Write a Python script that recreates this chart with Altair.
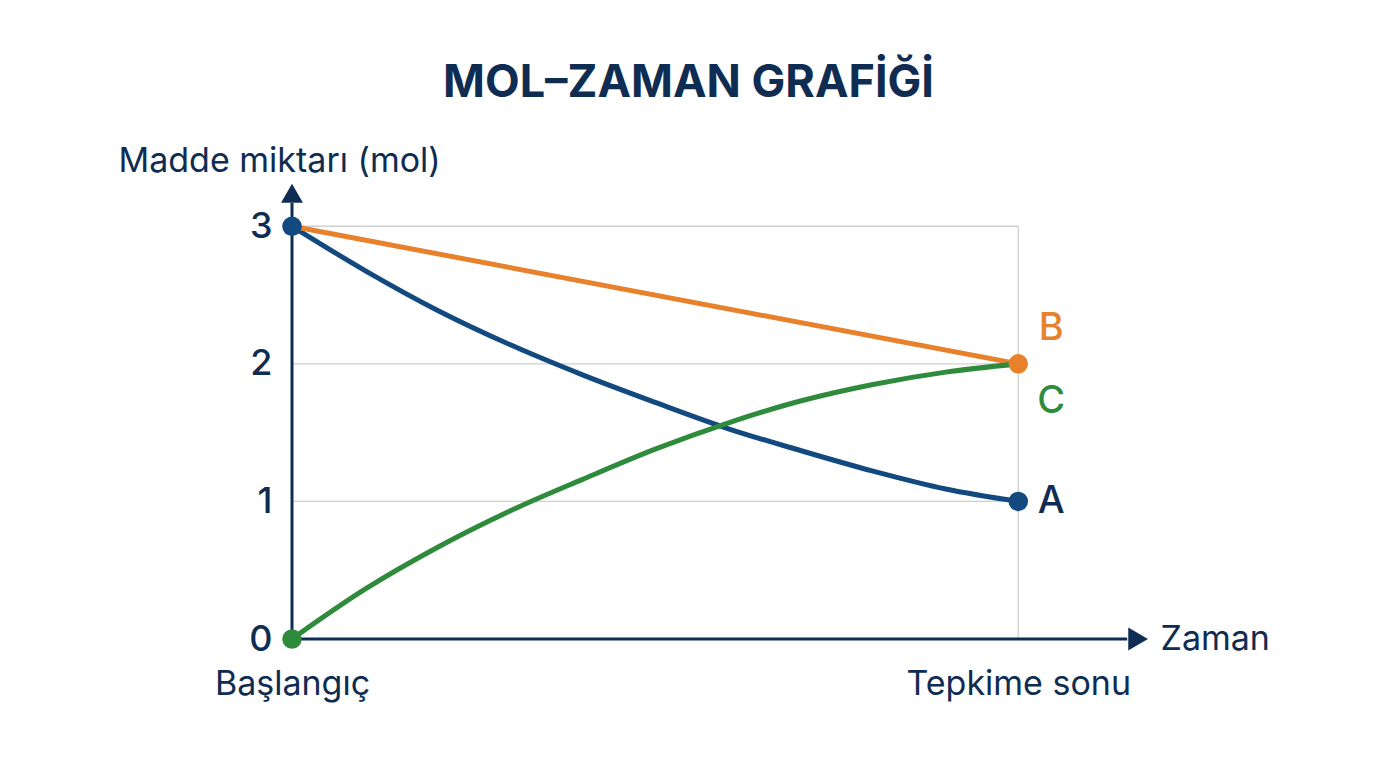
import altair as alt
import pandas as pd

# ---- data ----
t_values = [0, 1, 2, 3, 4, 5, 6, 7, 8, 9, 10]
a_values = [3.00, 2.68, 2.39, 2.14, 1.92, 1.72, 1.53, 1.37, 1.22, 1.09, 1.00]
c_values = [0.00, 0.36, 0.665, 0.93, 1.16, 1.38, 1.57, 1.73, 1.85, 1.94, 2.00]
b_times = [0, 10]
b_values = [3.0, 2.0]
y_ticks = [0, 1, 2, 3]
x_ticks = [0, 10]
x_tick_labels = ["Başlangıç", "Tepkime sonu"]
series_names = ["A", "B", "C"]
series_colors = ["#124a80", "#e8812b", "#2f8b3c"]

NAVY = "#0f2c52"
FONT = "Inter"

rows = []
for t, v in zip(t_values, a_values):
    rows.append({"t": t, "mol": v, "madde": "A"})
for t, v in zip(b_times, b_values):
    rows.append({"t": t, "mol": v, "madde": "B"})
for t, v in zip(t_values, c_values):
    rows.append({"t": t, "mol": v, "madde": "C"})
df = pd.DataFrame(rows)

end_pts = pd.DataFrame({
    "t": [0, 10, 10, 0],
    "mol": [a_values[0], a_values[-1], b_values[-1], c_values[0]],
    "madde": ["A", "A", "B", "C"],
})

xs = alt.Scale(domain=[0, 11.8], nice=False, zero=False)
ys = alt.Scale(domain=[0, 3.3], nice=False, zero=False)
color = alt.Color("madde:N", scale=alt.Scale(domain=series_names, range=series_colors), legend=None)

label_expr = "datum.value == 0 ? '" + x_tick_labels[0] + "' : '" + x_tick_labels[1] + "'"

grid_h = alt.Chart(pd.DataFrame({"g": [1, 2, 3]})).mark_rule(color="#cfcfcf", strokeWidth=1.3).encode(
    y=alt.Y("g:Q", scale=ys,
            axis=alt.Axis(values=y_ticks, format="d", domain=False, ticks=False, grid=False,
                          labelFontSize=36, labelFontWeight=500, labelColor=NAVY, labelFont=FONT,
                          labelPadding=20, labelOverlap=False,
                          title="Madde miktarı (mol)", titleAngle=0, titleX=-174, titleY=-24,
                          titleAlign="left", titleBaseline="middle", titleFontSize=34,
                          titleFontWeight=400, titleColor=NAVY, titleFont=FONT, titleLimit=600)),
    x=alt.X("x0:Q", scale=xs,
            axis=alt.Axis(values=x_ticks, labelExpr=label_expr, domain=False, ticks=False, grid=False,
                          labelFontSize=34, labelFontWeight=400, labelColor=NAVY, labelFont=FONT,
                          labelPadding=28, labelFlush=False, labelOverlap=False, labelLimit=600,
                          title="Zaman", titleX=868, titleY=0, titleAlign="left",
                          titleBaseline="middle", titleFontSize=34, titleFontWeight=400,
                          titleColor=NAVY, titleFont=FONT)),
    x2=alt.datum(10),
).transform_calculate(x0="0")

grid_v = alt.Chart(pd.DataFrame({"g": [10]})).mark_rule(color="#cfcfcf", strokeWidth=1.3).encode(
    x=alt.X("g:Q", scale=xs),
    y=alt.datum(0),
    y2=alt.datum(3),
)

y_axis_line = alt.Chart(pd.DataFrame({"g": [0]})).mark_rule(color=NAVY, strokeWidth=3).encode(
    x=alt.X("g:Q", scale=xs), y=alt.datum(0), y2=alt.datum(3.17))
x_axis_line = alt.Chart(pd.DataFrame({"g": [0]})).mark_rule(color=NAVY, strokeWidth=3).encode(
    y=alt.Y("g:Q", scale=ys), x=alt.datum(0), x2=alt.datum(11.5))

y_arrow = alt.Chart(pd.DataFrame({"g": [0]})).mark_point(
    shape="triangle-up", filled=True, opacity=1, color=NAVY, size=480).encode(
    x=alt.X("g:Q", scale=xs), y=alt.datum(3.24))
x_arrow = alt.Chart(pd.DataFrame({"g": [0]})).mark_point(
    shape="triangle-right", filled=True, opacity=1, color=NAVY, size=520).encode(
    y=alt.Y("g:Q", scale=ys), x=alt.datum(11.65))

lines = alt.Chart(df).mark_line(strokeWidth=5, interpolate="monotone").encode(
    x=alt.X("t:Q", scale=xs),
    y=alt.Y("mol:Q", scale=ys),
    color=color,
    order=alt.Order("t:Q"),
)

points = alt.Chart(end_pts).mark_circle(size=380, opacity=1).encode(
    x=alt.X("t:Q", scale=xs),
    y=alt.Y("mol:Q", scale=ys),
    color=color,
)

lab_a = alt.Chart(pd.DataFrame({"t": [10], "mol": [a_values[-1]], "madde": ["A"]})).mark_text(
    font=FONT, fontSize=38, fontWeight=500, align="center", baseline="middle", dx=33, dy=1).encode(
    x=alt.X("t:Q", scale=xs), y=alt.Y("mol:Q", scale=ys), text="madde:N", color=alt.value(NAVY))
lab_b = alt.Chart(pd.DataFrame({"t": [10], "mol": [b_values[-1]], "madde": ["B"]})).mark_text(
    font=FONT, fontSize=38, fontWeight=500, align="center", baseline="middle", dx=33, dy=-35).encode(
    x=alt.X("t:Q", scale=xs), y=alt.Y("mol:Q", scale=ys), text="madde:N", color=color)
lab_c = alt.Chart(pd.DataFrame({"t": [10], "mol": [c_values[-1]], "madde": ["C"]})).mark_text(
    font=FONT, fontSize=38, fontWeight=500, align="center", baseline="middle", dx=33, dy=38).encode(
    x=alt.X("t:Q", scale=xs), y=alt.Y("mol:Q", scale=ys), text="madde:N", color=color)

chart = alt.layer(
    grid_h, grid_v, y_axis_line, x_axis_line, y_arrow, x_arrow,
    lines, points, lab_a, lab_b, lab_c,
).properties(
    width=857,
    height=454,
    autosize=alt.AutoSizeParams(type="none"),
    padding={"left": 284, "top": 177, "right": 200, "bottom": 100},
    title=alt.TitleParams(
        text="MOL–ZAMAN GRAFİĞİ", font=FONT, fontSize=45, fontWeight=700, color=NAVY,
        anchor="middle", frame="group", dx=-32, offset=38,
    ),
).configure(
    background="white",
    view=alt.ViewConfig(stroke="transparent", strokeWidth=0),
)

chart.save("out.html", embed_options={"renderer": "svg", "actions": False})
